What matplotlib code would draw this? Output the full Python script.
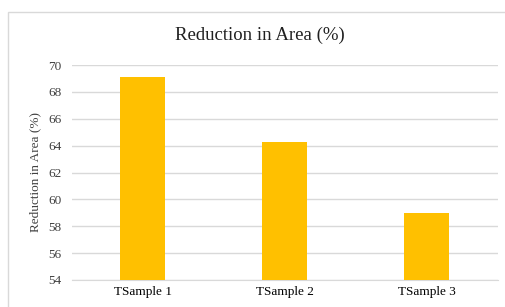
import matplotlib
matplotlib.use('Agg')
import matplotlib.pyplot as plt
from matplotlib.patches import Rectangle

samples = ['TSample 1', 'TSample 2', 'TSample 3']
reduction = [69.13, 64.25, 59.0]
yticks = [54, 56, 58, 60, 62, 64, 66, 68, 70]

plt.rcParams['font.family'] = ['Liberation Serif', 'DejaVu Serif']

W, H = 505, 307
fig = plt.figure(figsize=(W / 100, H / 100), dpi=100)
fig.patch.set_facecolor('white')

# outer chart border (only top and left visible in the crop)
fig.patches.append(Rectangle((8 / W, -0.1), 1.2, 1.1 - 12 / H,
                             transform=fig.transFigure, fill=False,
                             edgecolor='#d9d9d9', linewidth=1))

left, right = 71.5, 497.5
top, bottom = 65, 280
ax = fig.add_axes([left / W, 1 - bottom / H, (right - left) / W, (bottom - top) / H])

x = list(range(len(samples)))
ax.bar(x, reduction, width=0.32, color='#FFC000', zorder=3)
ax.set_xlim(-0.5, len(samples) - 0.5)
ax.set_ylim(54, 70)
ax.set_yticks(yticks)
ax.set_xticks(x)
ax.set_xticklabels(samples, fontsize=9.5)
ax.tick_params(axis='y', labelsize=9.5, length=0, pad=7, colors='#404040')
ax.tick_params(axis='x', length=0, pad=4)
ax.grid(axis='y', color='#d9d9d9', linewidth=1, zorder=0)
for s in ['top', 'right', 'left']:
    ax.spines[s].set_visible(False)
ax.spines['bottom'].set_color('#d9d9d9')

ax.set_ylabel('Reduction in Area (%)', fontsize=9.5, color='#404040', labelpad=5)
fig.text(260 / W, 1 - 35 / H, 'Reduction in Area (%)',
         ha='center', va='center', fontsize=13.5, color='#202020')

fig.savefig('out.png', dpi=100)
